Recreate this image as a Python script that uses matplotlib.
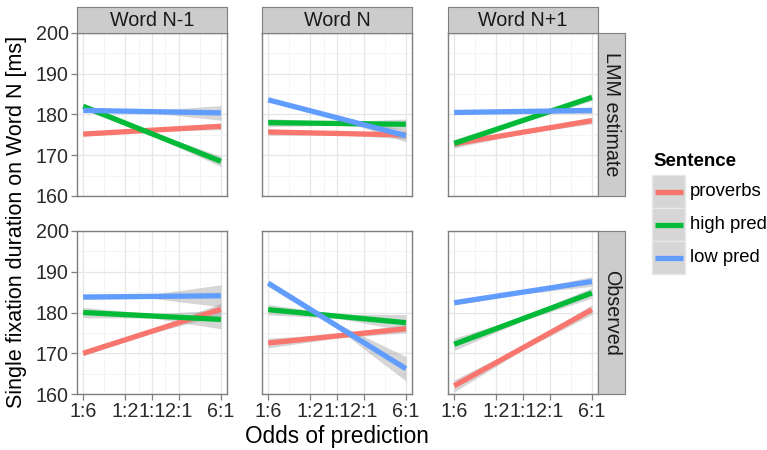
import numpy as np
import matplotlib
matplotlib.use("Agg")
import matplotlib.pyplot as plt
from matplotlib.patches import Rectangle
from matplotlib.lines import Line2D
from matplotlib.ticker import NullFormatter

plt.rcParams['font.family'] = ['Liberation Sans', 'DejaVu Sans']

# data
odds_ticks = [1/6, 1/2, 1, 2, 6]
odds_labels = ["1:6", "1:2", "1:1", "2:1", "6:1"]
columns = ["Word N-1", "Word N", "Word N+1"]
rows = ["LMM estimate", "Observed"]
sentences = ["proverbs", "high pred", "low pred"]
colors = ["#F8766D", "#00BA38", "#619CFF"]

# line value at 1:6 and at 6:1, per row / column / sentence
lmm_start = [[175.2, 182.0, 181.0], [175.7, 178.0, 183.6], [172.8, 172.9, 180.5]]
lmm_end = [[177.1, 168.5, 180.4], [175.0, 177.6, 174.8], [178.5, 184.2, 181.0]]
obs_start = [[170.0, 180.0, 183.8], [172.5, 180.7, 187.2], [162.0, 172.2, 182.4]]
obs_end = [[180.8, 178.3, 184.1], [176.0, 177.5, 166.2], [180.7, 184.8, 187.6]]
# confidence band half widths (left, middle, right)
lmm_ci = [[(0.5, 0.3, 0.8), (0.8, 0.4, 1.3), (0.4, 0.3, 1.8)],
          [(0.8, 0.3, 1.0), (1.0, 0.4, 1.3), (0.4, 0.3, 1.5)],
          [(1.0, 0.3, 0.8), (1.0, 0.4, 0.8), (0.3, 0.3, 0.8)]]
obs_ci = [[(0.6, 0.4, 1.5), (1.3, 0.5, 2.3), (0.6, 0.5, 2.7)],
          [(1.2, 0.5, 1.0), (1.3, 0.5, 2.0), (0.8, 0.6, 3.0)],
          [(1.5, 0.5, 1.2), (1.5, 0.5, 1.3), (0.6, 0.4, 1.2)]]
starts = [lmm_start, obs_start]
ends = [lmm_end, obs_end]
cis = [lmm_ci, obs_ci]

W, H = 767, 450
fig = plt.figure(figsize=(W / 100, H / 100), dpi=100)


def fr(x, y, w, h):
    return [x / W, 1 - (y + h) / H, w / W, h / H]


col_x = [77, 262, 448]
row_y = [33, 231]
pw, ph = 150, 163
border = "#7f7f7f"
fs_tick = 14.2
fs_strip = 14.2

minor_x = [np.sqrt(odds_ticks[i] * odds_ticks[i + 1]) for i in range(len(odds_ticks) - 1)]

for r in range(2):
    for c in range(3):
        ax = fig.add_axes(fr(col_x[c], row_y[r], pw, ph))
        ax.set_xscale('log')
        ax.set_xlim(0.142, 7.03)
        ax.set_ylim(160, 200)
        ax.set_xticks(odds_ticks)
        ax.set_xticks(minor_x, minor=True)
        ax.xaxis.set_minor_formatter(NullFormatter())
        ax.set_yticks([160, 170, 180, 190, 200])
        ax.set_yticks([165, 175, 185, 195], minor=True)
        ax.grid(True, which='major', color='#e6e6e6', lw=0.9)
        ax.grid(True, which='minor', color='#f2f2f2', lw=0.6)
        ax.set_axisbelow(True)
        for s in ax.spines.values():
            s.set_color(border)
            s.set_linewidth(1.0)
        ax.tick_params(which='minor', length=0)
        ax.tick_params(which='major', color=border, length=4, width=0.9,
                       labelsize=fs_tick, labelcolor='#2b2b2b', pad=2)
        if r == 1:
            ax.set_xticklabels(odds_labels)
        else:
            ax.tick_params(axis='x', length=0, labelbottom=False)
        if c != 0:
            ax.tick_params(axis='y', length=0, labelleft=False)
        for k in range(3):
            y0 = starts[r][c][k]
            y1 = ends[r][c][k]
            ym = (y0 + y1) / 2
            w0, wm, w1 = cis[r][c][k]
            xs = [odds_ticks[0], 1, odds_ticks[-1]]
            ax.fill_between(xs, [y0 - w0, ym - wm, y1 - w1], [y0 + w0, ym + wm, y1 + w1],
                            color='#999999', alpha=0.4, lw=0, zorder=2)
        for k in range(3):
            ax.plot([odds_ticks[0], odds_ticks[-1]], [starts[r][c][k], ends[r][c][k]],
                    color=colors[k], lw=3.8, solid_capstyle='butt', zorder=3)

        if r == 0:
            sax = fig.add_axes(fr(col_x[c], 7, pw, 26))
            sax.set_facecolor('#cccccc')
            sax.set_xticks([])
            sax.set_yticks([])
            for s in sax.spines.values():
                s.set_color(border)
            sax.text(0.5, 0.47, columns[c], ha='center', va='center', fontsize=fs_strip,
                     color='#1a1a1a', transform=sax.transAxes)
    rax = fig.add_axes(fr(598, row_y[r], 27, ph))
    rax.set_facecolor('#cccccc')
    rax.set_xticks([])
    rax.set_yticks([])
    for s in rax.spines.values():
        s.set_color(border)
    rax.text(0.5, 0.5, rows[r], ha='center', va='center', fontsize=fs_strip,
             color='#1a1a1a', rotation=-90, transform=rax.transAxes)

fig.text(17 / W, 1 - 222 / H, "Single fixation duration on Word N [ms]", rotation=90,
         ha='center', va='center', fontsize=15.5)
fig.text(337 / W, 1 - 437 / H, "Odds of prediction", ha='center', va='center', fontsize=16.3)

# legend
fig.text(653 / W, 1 - 161 / H, "Sentence", ha='left', va='center', fontsize=13.5,
         fontweight='bold')
for k in range(3):
    yk = 175 + k * 33
    fig.patches.append(Rectangle((652 / W, 1 - (yk + 33) / H), 33 / W, 33 / H,
                                 transform=fig.transFigure, facecolor='#d6d6d6',
                                 edgecolor='#e8e8e8', lw=1))
    fig.lines.append(Line2D([655 / W, 683 / W], [1 - (yk + 16.5) / H] * 2,
                            transform=fig.transFigure, color=colors[k], lw=3.8,
                            solid_capstyle='butt'))
    fig.text(690 / W, 1 - (yk + 16.5) / H, sentences[k], ha='left', va='center',
             fontsize=13.3)

fig.savefig("out.png", dpi=100)
